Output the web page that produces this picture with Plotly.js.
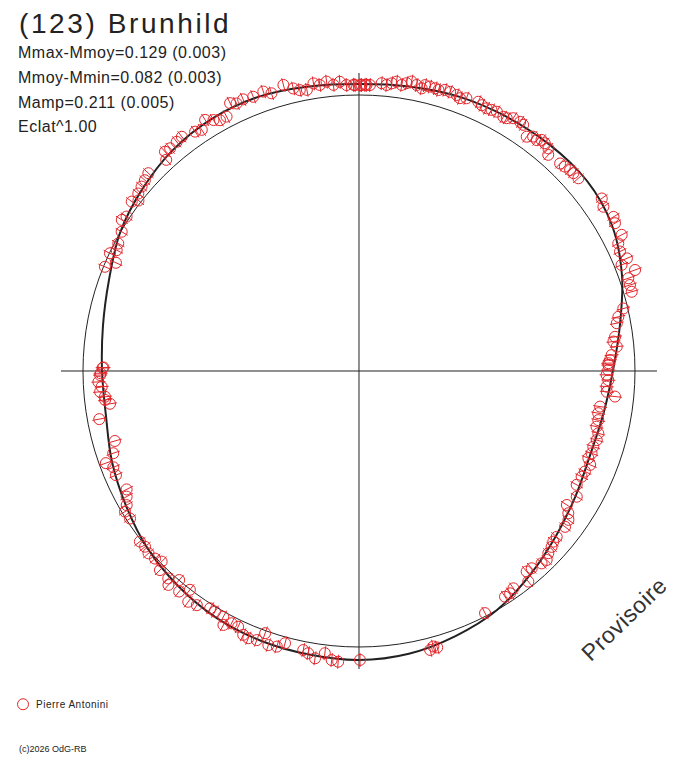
<!DOCTYPE html>
<html>
<head>
<meta charset="utf-8">
<script src="https://cdn.plot.ly/plotly-3.0.1.min.js"></script>
<style>
  html, body { margin: 0; padding: 0; background: #fff; }
  #chart { width: 688px; height: 768px; }
  g.annotation[data-index="0"] text { letter-spacing: 2.6px; }
  g.annotation[data-index="1"] text, g.annotation[data-index="2"] text,
  g.annotation[data-index="3"] text, g.annotation[data-index="4"] text { letter-spacing: 0.5px; }
  g.annotation[data-index="5"] text { letter-spacing: 0.6px; }
  .legendtext { letter-spacing: 0.5px; transform: translateX(-7px); }
</style>
</head>
<body>
<div id="chart"></div>
<script>
// Observations: rotation phase (deg, counter-clockwise from +x) and flux relative to the mean (circle = 1)
const phase = [
  88.5, 89.5, 90.8, 92.5, 93.8, 95.1, 96.4, 97.8, 99.0, 100.5, 101.9, 103.1, 104.8, 107.5, 108.9, 111.1,
  113.1, 114.6, 115.7, 117.5, 119.0, 120.1, 121.5, 123.1, 124.4, 127.1, 128.5, 130.3, 131.5, 132.4, 136.8,
  138.3, 139.7, 141.2, 143.3, 142.3, 147.5, 146.4, 149.6, 152.1, 153.5, 154.7, 156.0, 157.7, 179.3, 180.5,
  91.1, 89.8, 88.8, 87.8, 85.5, 84.5, 83.5, 82.6, 81.5, 80.6, 79.7, 78.6, 77.5, 77.0, 76.0, 74.9, 74.2,
  73.0, 71.9, 70.5, 69.7, 68.5, 66.1, 65.2, 64.1, 63.1, 62.0, 60.4, 59.7, 58.6, 57.1, 56.3, 54.4, 53.4,
  52.4, 51.7, 50.8, 49.6, 48.8, 45.9, 44.8, 43.6, 42.7, 41.3, 39.3, 37.8, 36.8, 35.4, 33.9, 32.5, 31.2,
  30.0, 27.4, 26.2, 24.6, 22.8, 22.0, 20.1, 19.0, 17.6, 16.2, 13.3, 11.8, 10.5, 7.6, 6.6, 5.4, 3.6, 2.5,
  1.4, 0.2, 359.1,
  1.8, 357.9, 356.4, 355.2, 354.3, 351.6, 350.0, 348.4, 346.8, 345.4, 343.8, 342.1, 340.5, 339.2, 337.9,
  336.0, 334.6, 332.4, 330.0, 327.2, 325.8, 324.6, 322.9, 320.0, 318.7, 317.6, 316.1, 314.8, 313.5, 311.2,
  309.9, 308.8, 305.4, 304.2, 302.9, 297.5, 285.1, 284.3, 285.8, 270.2,
  179.2, 180.9, 182.4, 183.5, 184.6, 185.8, 186.5, 187.5, 190.5, 196.0, 198.5, 200.0, 201.4, 203.2, 207.0,
  208.4, 210.0, 211.0, 212.8, 217.9, 219.4, 220.9, 222.6, 224.0, 225.0, 227.4, 228.3, 229.3, 230.8, 232.3,
  233.5, 235.3, 237.9, 239.1, 241.1, 241.9, 243.2, 244.7, 246.3, 247.5, 249.2, 250.3, 251.7, 253.4, 254.8,
  258.7, 259.8, 261.3, 263.1, 264.6, 265.9
];
const flux = [
  1.037, 1.036, 1.036, 1.037, 1.050, 1.041, 1.055, 1.046, 1.055, 1.036, 1.040, 1.051, 1.072, 1.055, 1.070, 1.065,
  1.070, 1.066, 1.077, 1.039, 1.039, 1.051, 1.067, 1.043, 1.051, 1.064, 1.061, 1.058, 1.061, 1.036, 1.047,
  1.039, 1.033, 1.026, 1.027, 1.010, 1.019, 1.011, 0.997, 0.987, 0.981, 0.998, 0.964, 0.995, 0.929, 0.936,
  1.037, 1.036, 1.037, 1.037, 1.046, 1.041, 1.049, 1.057, 1.048, 1.057, 1.066, 1.057, 1.049, 1.063, 1.062, 1.061, 1.058,
  1.065, 1.064, 1.061, 1.054, 1.062, 1.067, 1.061, 1.058, 1.061, 1.064, 1.059, 1.061, 1.073, 1.075, 1.072, 1.044, 1.058,
  1.056, 1.067, 1.065, 1.059, 1.041, 1.047, 1.051, 1.056, 1.057, 1.058, 1.082, 1.090, 1.083, 1.079, 1.067, 1.086, 1.078,
  1.071, 1.072, 1.047, 1.040, 1.053, 1.026, 1.065, 1.032, 1.030, 1.029, 0.984, 0.960, 0.950, 0.936, 0.928, 0.938, 0.917, 0.910,
  0.904, 0.903, 0.897,
  0.904, 0.904, 0.899, 0.901, 0.932, 0.883, 0.880, 0.885, 0.884, 0.896, 0.897, 0.892, 0.894, 0.889, 0.904,
  0.896, 0.893, 0.890, 0.911, 0.896, 0.917, 0.931, 0.936, 0.935, 0.937, 0.945, 0.952, 0.965, 0.961, 0.950,
  0.947, 0.979, 0.966, 0.974, 0.974, 0.989, 1.034, 1.043, 1.041, 1.047,
  0.926, 0.938, 0.945, 0.934, 0.941, 0.925, 0.926, 0.910, 0.957, 0.920, 0.939, 0.976, 0.956, 0.958, 0.945,
  0.957, 0.972, 0.989, 0.987, 1.006, 1.003, 1.009, 1.004, 0.994, 1.020, 1.021, 1.038, 0.999, 1.031, 1.002,
  1.040, 1.032, 1.015, 1.016, 1.017, 1.043, 1.024, 1.025, 1.044, 1.048, 1.043, 1.009, 1.046, 1.042, 1.022,
  1.031, 1.039, 1.053, 1.030, 1.052, 1.056
];

// Fitted lightcurve, read every 10 deg
const fitPhase = [0, 10, 20, 30, 40, 50, 60, 70, 80, 90, 100, 110, 120, 130, 140, 150, 160, 170, 180,
  190, 200, 210, 220, 230, 240, 250, 260, 270, 280, 290, 300, 310, 320, 330, 340, 350, 360];
const fitFlux = [0.920, 0.960, 1.014, 1.058, 1.076, 1.072, 1.065, 1.058, 1.047, 1.040, 1.047, 1.058, 1.058,
  1.047, 1.025, 1.000, 0.964, 0.942, 0.931, 0.931, 0.953, 0.975, 1.000, 1.018, 1.033, 1.040, 1.043, 1.047,
  1.040, 1.022, 1.000, 0.964, 0.931, 0.906, 0.891, 0.899, 0.920];

const objectName = '(123) Brunhild';
const statLines = ['Mmax-Mmoy=0.129 (0.003)', 'Mmoy-Mmin=0.082 (0.003)', 'Mamp=0.211 (0.005)', 'Eclat^1.00'];
const observer = 'Pierre Antonini';

const RED = '#e3262b';
const INK = '#222222';
const FONT = 'Liberation Sans, Arial, sans-serif';

const traces = [
  {
    type: 'scatterpolar', mode: 'lines',
    theta: fitPhase, r: fitFlux,
    line: { color: INK, width: 2, shape: 'spline' },
    showlegend: false, hoverinfo: 'skip'
  },
  {
    type: 'scatterpolar', mode: 'markers', name: observer,
    theta: phase, r: flux, cliponaxis: false,
    marker: { symbol: 'circle-open', size: 11, color: RED, line: { color: RED, width: 1 } }
  },
  {
    // radial error ticks inside each circle
    type: 'scatterpolar', mode: 'markers',
    theta: phase, r: flux, cliponaxis: false,
    marker: {
      symbol: 'line-ns', size: 10, color: RED,
      line: { color: RED, width: 1 },
      angle: phase.map(p => 90 - p)
    },
    showlegend: false, hoverinfo: 'skip'
  }
];

const annotations = [
  { text: objectName, x: 0.024, y: 0.970, font: { size: 28, color: INK, family: FONT } }
];
statLines.forEach((t, i) => {
  annotations.push({ text: t, x: 0.0235, y: 0.9315 - i * 0.0322, font: { size: 16, color: INK, family: FONT } });
});
annotations.forEach(a => Object.assign(a, {
  xref: 'paper', yref: 'paper', xanchor: 'left', yanchor: 'middle', align: 'left', showarrow: false
}));
annotations.push({
  text: 'Provisoire', xref: 'paper', yref: 'paper', x: 0.907, y: 0.194,
  xanchor: 'center', yanchor: 'middle',
  textangle: -44, showarrow: false, font: { size: 23, color: '#333', family: FONT }
});
annotations.push({
  text: '(c)2026 OdG-RB', xref: 'paper', yref: 'paper', x: 0.024, y: 0.025,
  xanchor: 'left', yanchor: 'middle', align: 'left', showarrow: false, font: { size: 9, color: INK, family: FONT }
});

const layout = {
  width: 688, height: 768,
  margin: { l: 0, r: 0, t: 0, b: 0 },
  paper_bgcolor: '#fff',
  font: { family: FONT, color: INK },
  polar: {
    domain: { x: [0.08866, 0.95494], y: [0.12891, 0.90495] },
    bgcolor: '#fff',
    radialaxis: {
      range: [0, 1.0797], tickmode: 'array', tickvals: [1],
      showticklabels: false, ticks: '', showline: false,
      showgrid: true, gridcolor: INK, gridwidth: 1
    },
    angularaxis: {
      tickmode: 'array', tickvals: [0, 90, 180, 270],
      showticklabels: false, ticks: '', showline: false,
      showgrid: true, gridcolor: INK, gridwidth: 1
    }
  },
  showlegend: true,
  legend: {
    x: 0.0044, y: 0.083, xanchor: 'left', yanchor: 'middle',
    font: { size: 10, color: INK, family: FONT },
    bgcolor: 'rgba(0,0,0,0)', borderwidth: 0
  },
  annotations: annotations
};

Plotly.newPlot('chart', traces, layout, { staticPlot: true, displayModeBar: false });
</script>
</body>
</html>
